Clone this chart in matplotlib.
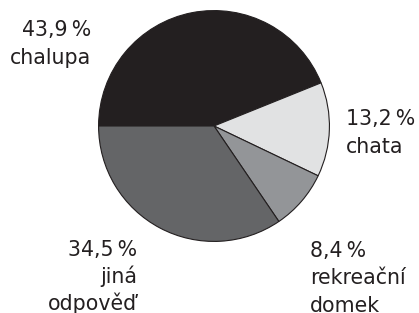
import matplotlib
matplotlib.use("Agg")
import matplotlib.pyplot as plt

categories = ["chalupa", "chata", "rekreační\ndomek", "jiná\nodpověď"]
values = [43.9, 13.2, 8.4, 34.5]
colors = ["#231f20", "#e1e2e3", "#939598", "#646567"]

W, H = 419, 313
fig = plt.figure(figsize=(W / 100, H / 100), dpi=100)
fig.patch.set_facecolor("white")

cx, cy, r = 214, 126, 116
ax = fig.add_axes([(cx - r) / W, (H - cy - r) / H, 2 * r / W, 2 * r / H])
ax.pie(values, colors=colors, startangle=180, counterclock=False,
       wedgeprops=dict(edgecolor="#231f20", linewidth=0.8))
ax.set_xlim(-1.005, 1.005)
ax.set_ylim(-1.005, 1.005)
ax.set_aspect("equal")
ax.axis("off")

# label anchor: (x pixel, first baseline pixel, alignment)
anchors = [(91, 36.5, "right"), (345.5, 125, "left"), (310, 257, "left"), (137, 255.5, "right")]
step = 27.5
fam = ["DejaVu Sans"]
for cat, v, (x, y, ha) in zip(categories, values, anchors):
    lines = [f"{v:.1f}".replace(".", ",") + "\u2009%"] + cat.split("\n")
    for i, ln in enumerate(lines):
        fig.text(x / W, 1 - (y + i * step) / H, ln, ha=ha, va="baseline",
                 fontsize=14.8, family=fam, color="#231f20")

fig.savefig("out.png", dpi=100, facecolor="white")
